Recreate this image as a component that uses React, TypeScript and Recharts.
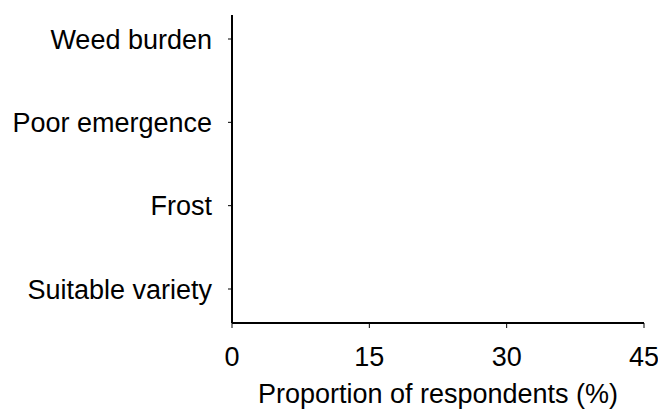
import React from 'react';
import { BarChart, Bar, XAxis, YAxis } from 'recharts';

const categories = ['Weed burden', 'Poor emergence', 'Frost', 'Suitable variety'];
const proportions = [0, 0, 0, 0];
const xTicks = [0, 15, 30, 45];

const data = categories.map((c, i) => ({ name: c, value: proportions[i] }));

const FONT = '"Liberation Sans", Arial, sans-serif';

export default function App() {
  return (
    <div style={{ position: 'absolute', left: 0, top: 0, background: '#fff' }}>
      <BarChart
        width={658}
        height={410}
        data={data}
        layout="vertical"
        margin={{ top: 15, right: 14, bottom: 0, left: 0 }}
      >
        <XAxis
          type="number"
          domain={[0, 45]}
          ticks={xTicks}
          interval={0}
          height={87}
          tickSize={5}
          tickMargin={19}
          axisLine={{ stroke: '#000', strokeWidth: 2 }}
          tickLine={{ stroke: '#000', strokeWidth: 1 }}
          tick={{ fill: '#000', fontSize: 27, fontFamily: FONT }}
          label={{
            value: 'Proportion of respondents (%)',
            position: 'insideBottom',
            offset: 7,
            fill: '#000',
            fontSize: 27,
            fontFamily: FONT,
          }}
        />
        <YAxis
          type="category"
          dataKey="name"
          scale="point"
          padding={{ top: 24, bottom: 34 }}
          width={232}
          interval={0}
          tickSize={4}
          tickMargin={16}
          axisLine={{ stroke: '#000', strokeWidth: 2 }}
          tickLine={{ stroke: '#000', strokeWidth: 1 }}
          tick={{ fill: '#000', fontSize: 27, fontFamily: FONT }}
        />
        <Bar dataKey="value" fill="#808080" isAnimationActive={false} />
      </BarChart>
    </div>
  );
}
